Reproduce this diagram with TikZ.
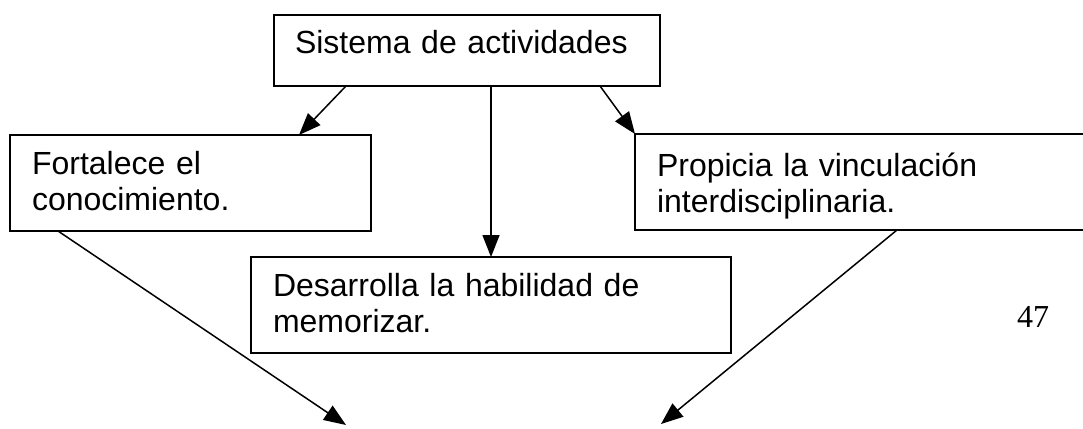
\documentclass[tikz,border=0pt]{standalone}
\usepackage{fontspec}
\setmainfont{Liberation Sans}
\newfontfamily\pagenumfont{Liberation Serif}
\usetikzlibrary{arrows.meta}
\begin{document}
\begin{tikzpicture}[x=1pt,y=-1pt,
  box/.style={draw, line width=2pt, rectangle, anchor=north west, inner ysep=0pt,
    inner xsep=22pt, outer sep=0pt, align=left, font=\fontsize{32}{36}\selectfont},
  arr/.style={line width=1.5pt, -{Triangle[length=22pt,width=17pt]}}]
\useasboundingbox (0,0) rectangle (1083,428);
\node[box, inner xsep=21pt, text width=344pt, text height=39pt, text depth=32pt] (top) at (274,15) {Sistema de actividades};
\node[box, text width=317pt, text height=39pt, text depth=57pt] (lbox) at (10,135) {Fortalece el\\conocimiento.};
\node[box, text width=411pt, text height=42pt, text depth=54pt] (rbox) at (635,134) {Propicia la vinculación\\interdisciplinaria.};
\node[box, text width=436pt, text height=39pt, text depth=57pt] (mbox) at (251,257) {Desarrolla la habilidad de\\memorizar.};
\node[anchor=base west, inner sep=0pt, font=\pagenumfont\fontsize{32}{36}\selectfont] (pnum) at (1017,327) {47};
\coordinate (a1) at (346,0);
\coordinate (a2) at (299,0);
\coordinate (a3) at (491,0);
\coordinate (a4) at (600,0);
\coordinate (b1) at (58,0);
\coordinate (b2) at (897,0);
\coordinate (e1) at (346,425);
\coordinate (e2) at (661,424);
\draw[arr] (top.south -| a1) -- (lbox.north -| a2);
\draw[arr] (top.south -| a3) -- (mbox.north -| a3);
\draw[arr] (top.south -| a4) -- (rbox.north west);
\draw[arr] (lbox.south -| b1) -- (e1);
\draw[arr] (rbox.south -| b2) -- (e2);
\end{tikzpicture}
\end{document}
